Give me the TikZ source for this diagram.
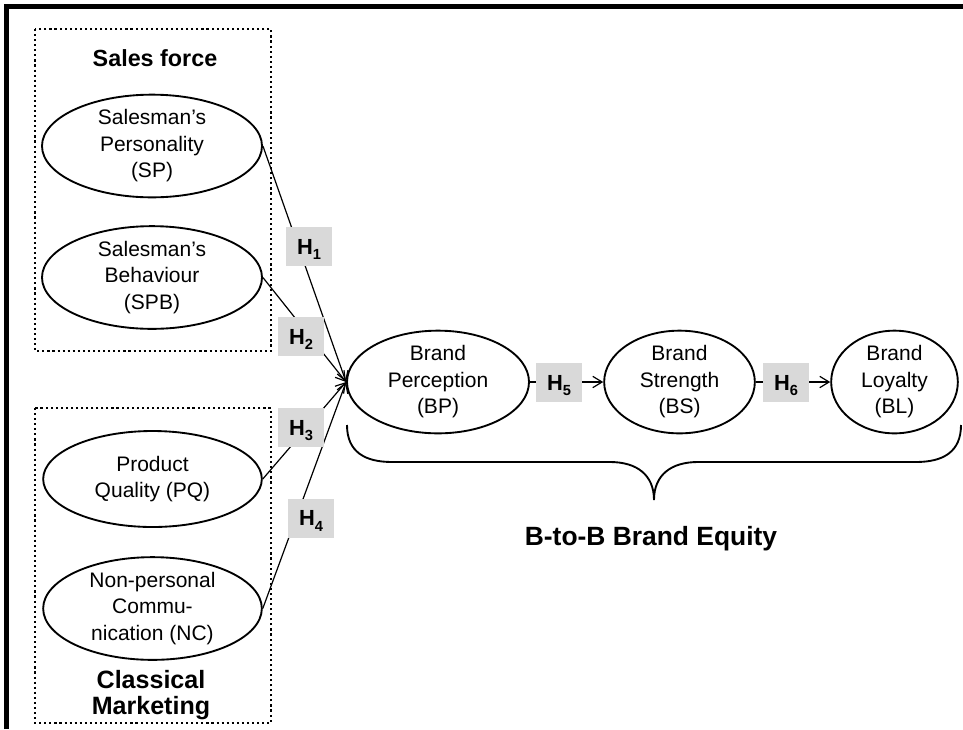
\documentclass[tikz,border=0pt]{standalone}
\usepackage{fontspec}
\setmainfont{Liberation Sans}
\usetikzlibrary{shapes.geometric,arrows.meta}
\newcommand\hsub[1]{\raisebox{-4.2pt}{\fontsize{11}{12}\selectfont #1}}
\begin{document}
\begin{tikzpicture}[x=0.75pt,y=-0.75pt,
  ell/.style={ellipse,draw,line width=1.4pt,inner sep=0pt,align=center,
    font=\fontsize{15.75}{19.9}\selectfont},
  hbox/.style={fill=black!15,inner sep=0pt,minimum width=34.5pt,minimum height=29.25pt,
    text height=11.8pt,text depth=0pt,font=\bfseries\fontsize{16.4}{18}\selectfont},
  arr/.style={line width=0.9pt,-{Straight Barb[length=7pt,width=8.5pt,line width=0.9pt]}},
  dotbox/.style={line width=1.6pt,dash pattern=on 1.6pt off 2.2pt},
  frame/.style={line width=3.5pt},
  brace/.style={line width=1.4pt}
]
\useasboundingbox (0,0) rectangle (963,729);
% outer frame (top and left only)
\draw[frame] (6.5,729) -- (6.5,6.5) -- (963,6.5);
% group boxes
\draw[dotbox] (35,29) rectangle (271,351);
\draw[dotbox] (35,408) rectangle (271,723);
\node[anchor=base,font=\bfseries\fontsize{17.5}{20}\selectfont] (sf) at (155,66) {Sales force};
\node[anchor=base,font=\bfseries\fontsize{18.8}{19.5}\selectfont,align=center] (cm) at (151,688) {Classical};
\node[anchor=base,font=\bfseries\fontsize{18.8}{19.5}\selectfont,align=center] (cm2) at (151,714) {Marketing};
% ellipses
\node[ell,minimum width=165pt,minimum height=73.5pt] (SP) at (152,146) {Salesman’s\\Personality\\(SP)};
\node[ell,minimum width=165pt,minimum height=74pt] (SPB) at (152,277.5) {Salesman’s\\Behaviour\\(SPB)};
\node[ell,minimum width=164pt,minimum height=72pt] (PQ) at (152.5,479) {Product\\Quality (PQ)};
\node[ell,minimum width=164pt,minimum height=73pt] (NC) at (152.5,608.5) {Non-personal\\Commu-\\nication (NC)};
\node[ell,minimum width=136.5pt,minimum height=73.5pt] (BP) at (438,382) {Brand\\Perception\\(BP)};
\node[ell,minimum width=113pt,minimum height=73.5pt] (BS) at (679.5,382) {Brand\\Strength\\(BS)};
\node[ell,minimum width=95pt,minimum height=73.5pt] (BL) at (894.5,382) {Brand\\Loyalty\\(BL)};
% connectors
\draw[arr] (SP.east) -- (BP.west);
\draw[arr] (SPB.east) -- (BP.west);
\draw[arr] (PQ.east) -- (BP.west);
\draw[arr] (NC.east) -- (BP.west);
\draw[arr] (BP.east) -- (BS.west);
\draw[arr] (BS.east) -- (BL.west);
% hypothesis labels
\node[hbox] (H1) at (309,246.5) {H\hsub{1}};
\node[hbox] (H2) at (301,336.5) {H\hsub{2}};
\node[hbox] (H3) at (301,427.5) {H\hsub{3}};
\node[hbox] (H4) at (311,518) {H\hsub{4}};
\node[hbox] (H5) at (559,382.5) {H\hsub{5}};
\node[hbox] (H6) at (786,382.5) {H\hsub{6}};
% brace
\draw[brace] (347,425) .. controls (347,452) and (365,462) .. (392,462)
  -- (610,462) .. controls (637,462) and (654,475) .. (654,500)
  .. controls (654,475) and (671,462) .. (698,462)
  -- (916,462) .. controls (943,462) and (961,452) .. (961,425);
\node[anchor=base,font=\bfseries\fontsize{19.8}{22}\selectfont] (eq) at (651,545) {B-to-B Brand Equity};
\end{tikzpicture}
\end{document}
